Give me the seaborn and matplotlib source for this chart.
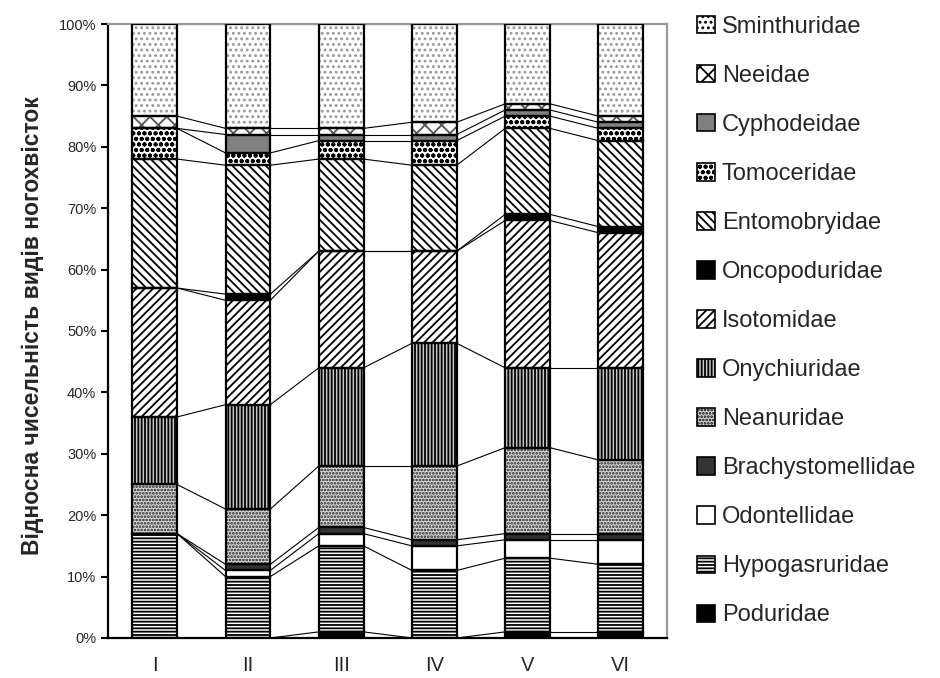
import numpy as np
import pandas as pd
import matplotlib
matplotlib.use("Agg")
import matplotlib.pyplot as plt
from matplotlib.patches import Patch
import seaborn as sns

# sites (x categories)
sites = ["I", "II", "III", "IV", "V", "VI"]

# share of each family, %, bottom of the stack first
poduridae = [0, 0, 1, 0, 1, 1]
hypogasruridae = [17, 10, 14, 11, 12, 11]
odontellidae = [0, 1, 2, 4, 3, 4]
brachystomellidae = [0, 1, 1, 1, 1, 1]
neanuridae = [8, 9, 10, 12, 14, 12]
onychiuridae = [11, 17, 16, 20, 13, 15]
isotomidae = [21, 17, 19, 15, 24, 22]
oncopoduridae = [0, 1, 0, 0, 1, 1]
entomobryidae = [21, 21, 15, 14, 14, 14]
tomoceridae = [5, 2, 3, 4, 2, 2]
cyphodeidae = [0, 3, 1, 1, 1, 1]
neeidae = [2, 1, 1, 2, 1, 1]
sminthuridae = [15, 17, 17, 16, 13, 15]

families = ["Poduridae", "Hypogasruridae", "Odontellidae", "Brachystomellidae",
            "Neanuridae", "Onychiuridae", "Isotomidae", "Oncopoduridae",
            "Entomobryidae", "Tomoceridae", "Cyphodeidae", "Neeidae", "Sminthuridae"]
series = [poduridae, hypogasruridae, odontellidae, brachystomellidae, neanuridae,
          onychiuridae, isotomidae, oncopoduridae, entomobryidae, tomoceridae,
          cyphodeidae, neeidae, sminthuridae]

# facecolor, hatch, hatch colour
styles = {
    "Poduridae": ("black", None, "black"),
    "Hypogasruridae": ("white", "-----", "black"),
    "Odontellidae": ("white", None, "black"),
    "Brachystomellidae": ("#333333", None, "#333333"),
    "Neanuridae": ("#d8d8d8", ".....", "#222222"),
    "Onychiuridae": ("#c8c8c8", "|||||", "black"),
    "Isotomidae": ("white", "////", "black"),
    "Oncopoduridae": ("black", None, "black"),
    "Entomobryidae": ("white", "\\\\\\\\", "black"),
    "Tomoceridae": ("white", "ooo", "black"),
    "Cyphodeidae": ("#808080", None, "#808080"),
    "Neeidae": ("white", "xx", "#555555"),
    "Sminthuridae": ("white", "...", "#999999"),
}

rows = []
for fam, vals in zip(families, series):
    for s, v in zip(sites, vals):
        rows.append({"site": s, "family": fam, "value": v})
df = pd.DataFrame(rows)
df["family"] = pd.Categorical(df["family"], families, ordered=True)
df = df.sort_values(["site", "family"])
df["top"] = df.groupby("site", observed=True)["value"].cumsum()
df["bottom"] = df["top"] - df["value"]

sns.set_style("white")
plt.rcParams["font.family"] = ["Liberation Sans", "DejaVu Sans"]
plt.rcParams["hatch.linewidth"] = 1.3

fig = plt.figure(figsize=(9.4, 6.78), dpi=100)
ax = fig.add_axes([0.115, 0.059, 0.595, 0.9056])

w = 0.48
# cumulative bars drawn from the top family down, each one covering the next
for fam in families[::-1]:
    sub = df[df["family"] == fam]
    fc, h, hc = styles[fam]
    sns.barplot(data=sub, x="site", y="top", order=sites, color=fc, saturation=1,
                hatch=h, edgecolor=hc, linewidth=0, width=w, errorbar=None, ax=ax)

# black outlines of each segment
xpos = np.arange(len(sites))
for fam in families:
    sub = df[df["family"] == fam].set_index("site").loc[sites]
    ax.bar(xpos, sub["value"], bottom=sub["bottom"], width=w, fill=False,
           edgecolor="black", linewidth=1.6, zorder=3)

# series lines between bars
for fam in families:
    sub = df[df["family"] == fam].set_index("site").loc[sites]
    tops = sub["top"].values
    for i in range(len(sites) - 1):
        ax.plot([i + w / 2, i + 1 - w / 2], [tops[i], tops[i + 1]],
                color="black", linewidth=0.8, zorder=2)

ax.set_xlim(-0.5, len(sites) - 0.5)
ax.set_ylim(0, 100)
ax.set_xlabel("")
ax.set_xticks(xpos)
ax.set_xticklabels(sites)
ax.set_xticks(np.arange(-0.5, len(sites), 1), minor=True)
ax.tick_params(axis="x", which="major", length=0, labelsize=14.5, pad=13)
ax.tick_params(axis="x", which="minor", length=6, width=1.5, direction="out", color="black")
ax.set_yticks(range(0, 101, 10))
ax.set_yticklabels([f"{v}%" for v in range(0, 101, 10)])
ax.tick_params(axis="y", length=5, width=1.5, labelsize=10.5, direction="out", left=True, color="black")

for side in ["left", "bottom"]:
    ax.spines[side].set_color("black")
    ax.spines[side].set_linewidth(1.6)
for side in ["top", "right"]:
    ax.spines[side].set_color("#999999")
    ax.spines[side].set_linewidth(1.6)

ax.set_ylabel("Відносна чисельність видів ногохвісток", fontsize=16.5, fontweight="bold")
ax.yaxis.set_label_coords(-0.115, 0.508)

handles = []
for fam in families[::-1]:
    fc, h, hc = styles[fam]
    handles.append(Patch(facecolor=fc, hatch=h, edgecolor="black", linewidth=1.2))
fig.legend(handles, families[::-1], loc="upper left", bbox_to_anchor=(697 / 940, 1 - 16 / 678),
           frameon=False, fontsize=17, handlelength=0.75, handleheight=0.75,
           handletextpad=0.3, labelspacing=1.145, borderpad=0, borderaxespad=0)

plt.savefig("out.png", dpi=100)
